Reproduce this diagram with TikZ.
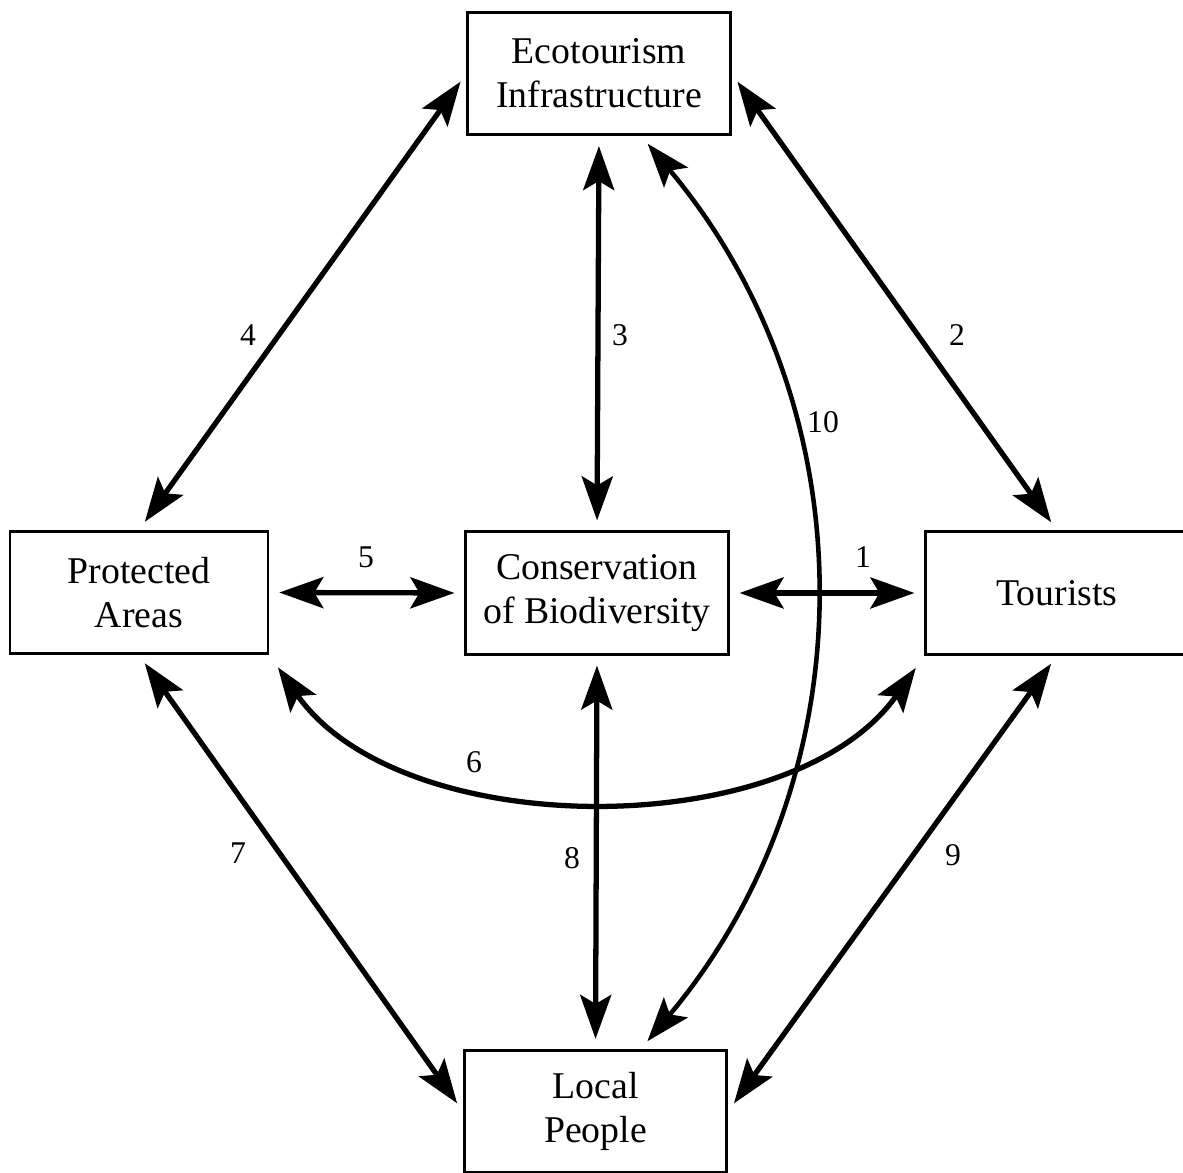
\documentclass[tikz,border=0pt]{standalone}
\usepackage{fontspec}
\setmainfont{Liberation Serif}
\usetikzlibrary{arrows.meta}

\tikzset{
  block/.style={draw, line width=1.5pt, minimum width=5.25cm, minimum height=2.45cm,
    align=center, inner sep=0pt, font=\fontsize{21.5}{25}\selectfont},
  link/.style={line width=3pt,
    {Stealth[length=0.88cm,width=0.62cm,inset=0.18cm]}-{Stealth[length=0.88cm,width=0.62cm,inset=0.18cm]},
    shorten <=0.2cm, shorten >=0.2cm},
  num/.style={inner sep=0pt, font=\fontsize{18}{20}\selectfont}
}

\begin{document}
\begin{tikzpicture}
  \useasboundingbox (0,0) rectangle (23.66,23.46);

  \node[block] (eco) at (11.98,21.99) {Ecotourism\\Infrastructure};
  \node[block, minimum width=5.16cm] (prot) at (2.78,11.61) {Protected\\Areas};
  \node[block] (cons) at (11.94,11.60) {Conservation\\of Biodiversity};
  \node[block] (tour) at (21.14,11.60) {Tourists};
  \node[block] (local) at (11.91,1.23) {Local\\People};

  \foreach \a/\b in {cons.east/tour.west, eco.east/tour.north, eco.south/cons.north,
                     prot.north/eco.west, prot.east/cons.west, prot.south/local.west,
                     cons.south/local.north, tour.south/local.east}
  \draw[link] (\a) -- (\b);

  \draw[link, shorten <=0.3cm, shorten >=0.3cm] (prot.south east) to[bend right=55, looseness=0.9] (tour.south west);
  \draw[link, line width=2.6pt] (eco.-56) to[bend left=40] (local.54);

  \foreach \n/\x/\y in {1/17.26/12.32, 2/19.14/16.76, 3/12.40/16.76, 4/4.96/16.76, 5/7.32/12.32,
                        6/9.48/8.22, 7/4.76/6.40, 8/11.44/6.30, 9/19.06/6.36, 10/16.46/15.02}
  \node[num] (n\n) at (\x,\y) {\n};
\end{tikzpicture}
\end{document}
